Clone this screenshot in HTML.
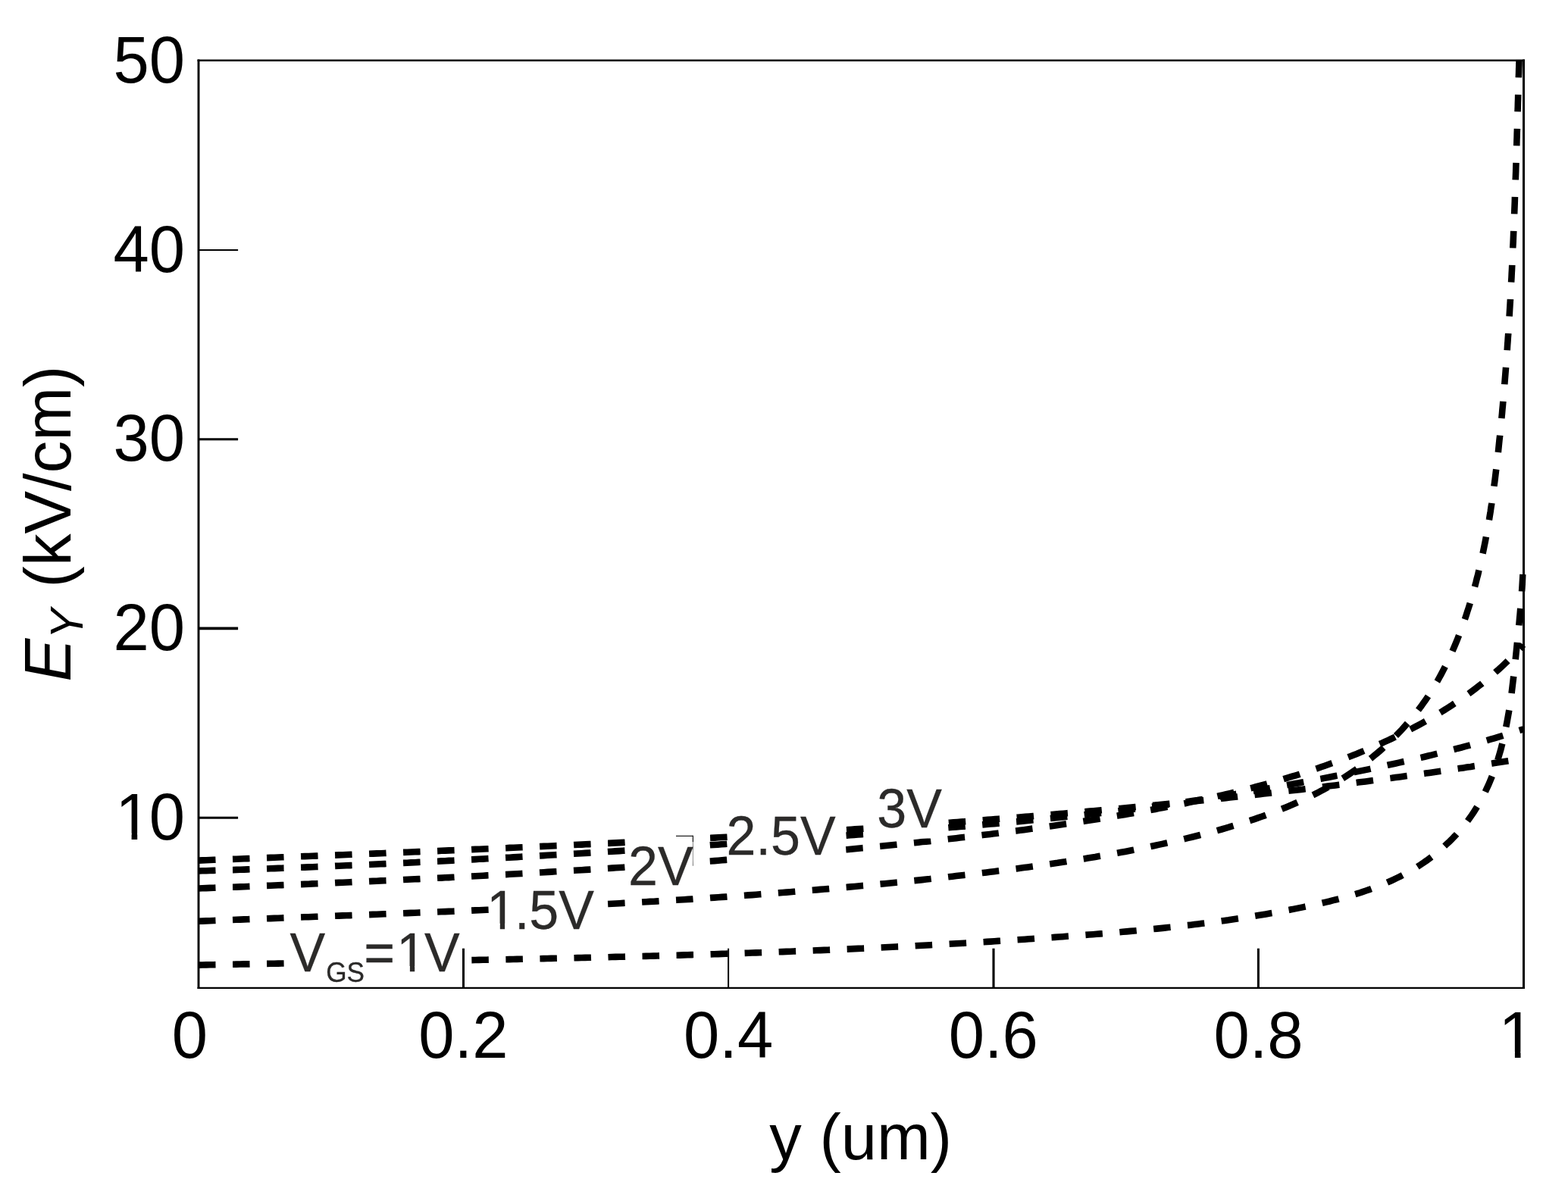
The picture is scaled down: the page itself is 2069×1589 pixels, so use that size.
<!DOCTYPE html>
<html lang="en"><head><meta charset="utf-8"><title>E_Y versus y for several V_GS</title>
<style>html,body{margin:0;padding:0;background:#fff}body{width:2069px;height:1589px;overflow:hidden}svg{display:block}text{font-family:"Liberation Sans", sans-serif}</style>
</head><body>
<svg width="2069" height="1589" viewBox="0 0 2069 1589" role="img" aria-label="E_Y (kV/cm) versus y (um) for V_GS = 1V, 1.5V, 2V, 2.5V and 3V">
<rect width="2069" height="1589" fill="#fff"/>
<defs><clipPath id="plot"><rect x="262.2" y="78.5" width="1751.5" height="1225.5"/></clipPath></defs>
<g clip-path="url(#plot)" fill="none" stroke="#000" stroke-width="8.6" stroke-dasharray="22.5 22.55">
<path d="M262.0 1273.6L267.0 1273.5 272.0 1273.4 277.0 1273.3 282.0 1273.2 287.0 1273.1 292.0 1273.0 297.0 1272.9 302.0 1272.8 306.9 1272.7 311.9 1272.6 316.9 1272.5 321.9 1272.4 326.9 1272.4 331.9 1272.3 336.9 1272.2 341.9 1272.1 346.9 1272.0 351.9 1271.9 356.9 1271.8 361.9 1271.7 366.9 1271.6 371.9 1271.5 376.9 1271.4 381.9 1271.4 386.9 1271.3 391.9 1271.2 396.9 1271.1 401.9 1271.0 406.9 1270.9 411.9 1270.8 416.9 1270.7 421.9 1270.6 426.9 1270.6 431.9 1270.5 436.9 1270.4 441.9 1270.3 446.9 1270.2 451.9 1270.1 456.9 1270.0 461.9 1269.9 466.9 1269.9 471.9 1269.8 476.9 1269.7 481.9 1269.6 486.9 1269.5 491.9 1269.4 496.9 1269.3 501.9 1269.2 506.9 1269.2 511.9 1269.1 517.0 1269.0 522.0 1268.9 527.0 1268.8 532.0 1268.7 537.0 1268.6 542.0 1268.5 547.0 1268.4 552.0 1268.4 557.0 1268.3 562.0 1268.2 567.0 1268.1 572.0 1268.0 577.0 1267.9 582.0 1267.8 587.0 1267.7 592.0 1267.6 597.0 1267.5 602.0 1267.4 607.0 1267.3 612.0 1267.2 617.0 1267.2 622.1 1267.1 627.1 1267.0 632.1 1266.9 637.1 1266.8 642.1 1266.7 647.1 1266.6 652.1 1266.5 657.1 1266.4 662.1 1266.3 667.1 1266.2 672.1 1266.1 677.1 1266.0 682.1 1265.9 687.1 1265.8 692.1 1265.7 697.1 1265.6 702.2 1265.4 707.2 1265.3 712.2 1265.2 717.2 1265.1 722.2 1265.0 727.2 1264.9 732.2 1264.8 737.2 1264.7 742.2 1264.6 747.2 1264.5 752.2 1264.3 757.2 1264.2 762.2 1264.1 767.2 1264.0 772.2 1263.9 777.3 1263.8 782.3 1263.6 787.3 1263.5 792.3 1263.4 797.3 1263.3 802.3 1263.2 807.3 1263.0 812.3 1262.9 817.3 1262.8 822.3 1262.7 827.3 1262.5 832.3 1262.4 837.3 1262.3 842.3 1262.1 847.3 1262.0 852.3 1261.9 857.4 1261.7 862.4 1261.6 867.4 1261.5 872.4 1261.3 877.4 1261.2 882.4 1261.0 887.4 1260.9 892.4 1260.7 897.4 1260.6 902.4 1260.4 907.4 1260.3 912.4 1260.1 917.4 1260.0 922.4 1259.8 927.4 1259.7 932.4 1259.5 937.4 1259.4 942.4 1259.2 947.5 1259.1 952.5 1258.9 957.5 1258.7 962.5 1258.6 967.5 1258.4 972.5 1258.2 977.5 1258.1 982.5 1257.9 987.5 1257.7 992.5 1257.5 997.5 1257.4 1002.5 1257.2 1007.5 1257.0 1012.5 1256.8 1017.5 1256.6 1022.5 1256.5 1027.5 1256.3 1032.5 1256.1 1037.5 1255.9 1042.5 1255.7 1047.5 1255.5 1052.5 1255.3 1057.5 1255.1 1062.5 1254.9 1067.5 1254.7 1072.5 1254.5 1077.5 1254.3 1082.5 1254.1 1087.5 1253.9 1092.5 1253.7 1097.5 1253.5 1102.5 1253.2 1107.5 1253.0 1112.5 1252.8 1117.5 1252.6 1122.5 1252.4 1127.5 1252.1 1132.5 1251.9 1137.5 1251.7 1142.5 1251.5 1147.5 1251.2 1152.5 1251.0 1157.5 1250.8 1162.5 1250.5 1167.5 1250.3 1172.5 1250.0 1177.5 1249.8 1182.5 1249.5 1187.5 1249.3 1192.5 1249.0 1197.5 1248.8 1202.5 1248.5 1207.5 1248.3 1212.5 1248.0 1217.5 1247.7 1222.5 1247.5 1227.5 1247.2 1232.4 1246.9 1237.4 1246.7 1242.4 1246.4 1247.4 1246.1 1252.4 1245.8 1257.4 1245.5 1262.4 1245.2 1267.4 1245.0 1272.4 1244.7 1277.4 1244.4 1282.4 1244.1 1287.4 1243.8 1292.4 1243.5 1297.3 1243.2 1302.3 1242.9 1307.3 1242.6 1312.3 1242.2 1317.3 1241.9 1322.3 1241.6 1327.3 1241.3 1332.3 1241.0 1337.3 1240.6 1342.2 1240.3 1347.2 1240.0 1352.2 1239.7 1357.2 1239.3 1362.2 1239.0 1367.2 1238.6 1372.2 1238.3 1377.1 1238.0 1382.1 1237.6 1387.1 1237.2 1392.1 1236.9 1397.1 1236.5 1402.1 1236.2 1407.0 1235.8 1412.0 1235.4 1417.0 1235.1 1422.0 1234.7 1427.0 1234.3 1432.0 1233.9 1436.9 1233.5 1441.9 1233.2 1446.9 1232.8 1451.9 1232.4 1456.9 1232.0 1461.8 1231.5 1466.8 1231.1 1471.8 1230.7 1476.8 1230.3 1481.7 1229.8 1486.7 1229.4 1491.7 1228.9 1496.7 1228.5 1501.6 1228.0 1506.6 1227.6 1511.6 1227.1 1516.6 1226.6 1521.5 1226.1 1526.5 1225.6 1531.5 1225.1 1536.4 1224.6 1541.4 1224.0 1546.4 1223.5 1551.4 1222.9 1556.3 1222.4 1561.3 1221.8 1566.3 1221.2 1571.2 1220.7 1576.2 1220.1 1581.2 1219.4 1586.1 1218.8 1591.1 1218.2 1596.1 1217.6 1601.0 1216.9 1606.0 1216.2 1610.9 1215.6 1615.9 1214.9 1620.9 1214.2 1625.8 1213.4 1630.8 1212.7 1635.7 1212.0 1640.7 1211.2 1645.7 1210.4 1650.6 1209.7 1655.6 1208.9 1660.5 1208.1 1665.5 1207.2 1670.4 1206.4 1675.4 1205.5 1680.3 1204.7 1685.3 1203.8 1690.2 1202.9 1695.2 1202.0 1700.1 1201.0 1705.1 1200.1 1710.0 1199.1 1715.0 1198.1 1719.9 1197.1 1724.9 1196.1 1729.8 1195.1 1734.7 1194.0 1739.7 1192.9 1744.6 1191.8 1749.5 1190.6 1754.4 1189.5 1759.3 1188.2 1764.2 1187.0 1769.0 1185.7 1773.9 1184.4 1778.7 1183.0 1783.5 1181.6 1788.3 1180.2 1793.1 1178.7 1797.8 1177.1 1802.5 1175.5 1807.2 1173.9 1811.9 1172.1 1816.6 1170.4 1821.2 1168.6 1825.8 1166.7 1830.3 1164.7 1834.9 1162.7 1839.4 1160.7 1843.8 1158.5 1848.2 1156.3 1852.6 1154.0 1857.0 1151.7 1861.3 1149.2 1865.5 1146.7 1869.8 1144.2 1874.0 1141.5 1878.1 1138.7 1882.2 1135.9 1886.2 1133.0 1890.2 1130.0 1894.2 1126.9 1898.0 1123.7 1901.9 1120.5 1905.6 1117.1 1909.3 1113.7 1912.9 1110.3 1916.5 1106.7 1920.0 1103.1 1923.4 1099.4 1926.7 1095.6 1930.0 1091.8 1933.1 1087.9 1936.2 1083.9 1939.2 1079.8 1942.1 1075.7 1944.8 1071.6 1947.5 1067.3 1950.1 1063.1 1952.6 1058.7 1955.0 1054.3 1957.4 1049.9 1959.6 1045.4 1961.7 1040.9 1963.8 1036.4 1965.8 1031.8 1967.7 1027.2 1969.5 1022.5 1971.2 1017.9 1972.9 1013.2 1974.5 1008.4 1976.1 1003.7 1977.5 998.9 1978.9 994.1 1980.3 989.3 1981.5 984.5 1982.8 979.7 1983.9 974.8 1985.1 969.9 1986.1 965.0 1987.1 960.1 1988.1 955.2 1989.0 950.2 1989.9 945.3 1990.8 940.3 1991.6 935.3 1992.3 930.4 1993.1 925.4 1993.8 920.4 1994.5 915.4 1995.1 910.4 1995.7 905.4 1996.3 900.4 1996.9 895.4 1997.5 890.4 1998.1 885.4 1998.6 880.4 1999.1 875.4 1999.7 870.4 2000.2 865.4 2000.7 860.4 2001.2 855.4 2001.7 850.4 2002.2 845.5 2002.7 840.5 2003.2 835.6 2003.7 830.6 2004.2 825.7 2004.7 820.7 2005.1 815.8 2005.6 810.8 2006.0 805.9 2006.5 800.9 2006.9 796.0 2007.3 791.0 2007.7 786.0 2008.0 781.1 2008.4 776.1 2008.7 771.1 2009.0 766.1 2009.3 761.1 2009.6 756.1 2009.8 751.0 2010.0 746.0" stroke-dashoffset="0.0"/>
<path d="M262.0 1215.8L267.0 1215.6 272.0 1215.4 277.0 1215.2 282.0 1215.0 287.0 1214.8 292.0 1214.6 297.0 1214.4 302.0 1214.2 306.9 1214.0 311.9 1213.8 316.9 1213.6 321.9 1213.4 326.9 1213.2 331.9 1213.0 336.9 1212.8 341.9 1212.6 346.9 1212.4 351.9 1212.3 356.9 1212.1 361.9 1211.9 366.9 1211.7 371.9 1211.5 376.9 1211.3 381.9 1211.1 386.9 1210.9 391.9 1210.7 396.9 1210.5 401.9 1210.3 406.9 1210.2 411.9 1210.0 416.9 1209.8 421.9 1209.6 426.9 1209.4 431.9 1209.2 437.0 1209.0 442.0 1208.8 447.0 1208.6 452.0 1208.4 457.0 1208.2 462.0 1208.1 467.0 1207.9 472.0 1207.7 477.0 1207.5 482.0 1207.3 487.0 1207.1 492.0 1206.9 497.0 1206.7 502.0 1206.5 507.0 1206.3 512.0 1206.1 517.0 1205.9 522.1 1205.7 527.1 1205.5 532.1 1205.3 537.1 1205.1 542.1 1204.9 547.1 1204.7 552.1 1204.5 557.1 1204.3 562.1 1204.1 567.1 1203.9 572.1 1203.7 577.1 1203.5 582.1 1203.3 587.2 1203.1 592.2 1202.9 597.2 1202.7 602.2 1202.5 607.2 1202.3 612.2 1202.1 617.2 1201.9 622.2 1201.6 627.2 1201.4 632.2 1201.2 637.2 1201.0 642.3 1200.8 647.3 1200.6 652.3 1200.3 657.3 1200.1 662.3 1199.9 667.3 1199.7 672.3 1199.5 677.3 1199.2 682.3 1199.0 687.3 1198.8 692.3 1198.5 697.4 1198.3 702.4 1198.1 707.4 1197.8 712.4 1197.6 717.4 1197.4 722.4 1197.1 727.4 1196.9 732.4 1196.6 737.4 1196.4 742.4 1196.1 747.4 1195.9 752.5 1195.6 757.5 1195.4 762.5 1195.1 767.5 1194.9 772.5 1194.6 777.5 1194.4 782.5 1194.1 787.5 1193.8 792.5 1193.6 797.5 1193.3 802.5 1193.0 807.5 1192.8 812.5 1192.5 817.5 1192.2 822.6 1191.9 827.6 1191.7 832.6 1191.4 837.6 1191.1 842.6 1190.8 847.6 1190.5 852.6 1190.2 857.6 1189.9 862.6 1189.7 867.6 1189.4 872.6 1189.1 877.6 1188.8 882.6 1188.4 887.6 1188.1 892.6 1187.8 897.6 1187.5 902.6 1187.2 907.6 1186.9 912.6 1186.6 917.6 1186.2 922.6 1185.9 927.6 1185.6 932.6 1185.3 937.6 1184.9 942.6 1184.6 947.6 1184.2 952.6 1183.9 957.6 1183.6 962.6 1183.2 967.6 1182.9 972.6 1182.5 977.6 1182.2 982.6 1181.8 987.6 1181.4 992.6 1181.1 997.6 1180.7 1002.6 1180.3 1007.6 1179.9 1012.6 1179.6 1017.6 1179.2 1022.6 1178.8 1027.6 1178.4 1032.6 1178.0 1037.6 1177.6 1042.6 1177.2 1047.6 1176.8 1052.6 1176.4 1057.5 1176.0 1062.5 1175.6 1067.5 1175.2 1072.5 1174.8 1077.5 1174.4 1082.5 1173.9 1087.5 1173.5 1092.5 1173.1 1097.5 1172.6 1102.5 1172.2 1107.4 1171.8 1112.4 1171.3 1117.4 1170.9 1122.4 1170.4 1127.4 1170.0 1132.4 1169.5 1137.4 1169.0 1142.3 1168.6 1147.3 1168.1 1152.3 1167.6 1157.3 1167.1 1162.3 1166.6 1167.2 1166.2 1172.2 1165.7 1177.2 1165.2 1182.2 1164.7 1187.2 1164.2 1192.1 1163.7 1197.1 1163.1 1202.1 1162.6 1207.1 1162.1 1212.1 1161.6 1217.0 1161.1 1222.0 1160.5 1227.0 1160.0 1231.9 1159.4 1236.9 1158.9 1241.9 1158.3 1246.9 1157.8 1251.8 1157.2 1256.8 1156.7 1261.8 1156.1 1266.7 1155.5 1271.7 1154.9 1276.7 1154.4 1281.6 1153.8 1286.6 1153.2 1291.6 1152.6 1296.5 1152.0 1301.5 1151.4 1306.5 1150.8 1311.4 1150.2 1316.4 1149.5 1321.4 1148.9 1326.3 1148.3 1331.3 1147.7 1336.2 1147.0 1341.2 1146.4 1346.1 1145.7 1351.1 1145.1 1356.1 1144.4 1361.0 1143.7 1366.0 1143.0 1370.9 1142.3 1375.9 1141.7 1380.8 1140.9 1385.8 1140.2 1390.7 1139.5 1395.7 1138.8 1400.6 1138.0 1405.6 1137.3 1410.5 1136.5 1415.4 1135.8 1420.4 1135.0 1425.3 1134.2 1430.3 1133.4 1435.2 1132.6 1440.1 1131.8 1445.1 1131.0 1450.0 1130.1 1454.9 1129.3 1459.9 1128.4 1464.8 1127.5 1469.7 1126.6 1474.6 1125.7 1479.6 1124.8 1484.5 1123.9 1489.4 1123.0 1494.3 1122.0 1499.3 1121.0 1504.2 1120.1 1509.1 1119.1 1514.0 1118.1 1518.9 1117.0 1523.8 1116.0 1528.7 1114.9 1533.6 1113.9 1538.5 1112.8 1543.5 1111.7 1548.4 1110.6 1553.3 1109.4 1558.2 1108.3 1563.0 1107.1 1567.9 1105.9 1572.8 1104.7 1577.7 1103.5 1582.6 1102.3 1587.5 1101.0 1592.4 1099.8 1597.3 1098.5 1602.1 1097.2 1607.0 1095.8 1611.9 1094.5 1616.7 1093.1 1621.6 1091.7 1626.4 1090.2 1631.2 1088.8 1636.0 1087.3 1640.9 1085.8 1645.7 1084.2 1650.4 1082.7 1655.2 1081.1 1660.0 1079.4 1664.7 1077.8 1669.5 1076.1 1674.2 1074.4 1678.9 1072.6 1683.6 1070.8 1688.2 1069.0 1692.9 1067.1 1697.5 1065.2 1702.1 1063.3 1706.7 1061.3 1711.3 1059.3 1715.9 1057.2 1720.4 1055.2 1724.9 1053.0 1729.4 1050.8 1733.9 1048.6 1738.3 1046.4 1742.7 1044.0 1747.1 1041.7 1751.5 1039.3 1755.8 1036.8 1760.1 1034.3 1764.4 1031.8 1768.6 1029.2 1772.8 1026.6 1777.0 1023.9 1781.2 1021.1 1785.3 1018.3 1789.4 1015.5 1793.5 1012.6 1797.5 1009.6 1801.5 1006.6 1805.4 1003.6 1809.4 1000.5 1813.2 997.3 1817.1 994.1 1820.9 990.9 1824.6 987.6 1828.3 984.2 1832.0 980.8 1835.6 977.4 1839.2 973.9 1842.7 970.3 1846.1 966.8 1849.6 963.1 1852.9 959.4 1856.2 955.7 1859.5 951.9 1862.7 948.1 1865.9 944.2 1869.0 940.3 1872.0 936.4 1875.0 932.4 1877.9 928.3 1880.8 924.3 1883.6 920.1 1886.3 916.0 1889.0 911.7 1891.6 907.5 1894.1 903.2 1896.7 898.9 1899.1 894.5 1901.5 890.1 1903.8 885.7 1906.1 881.3 1908.4 876.8 1910.6 872.3 1912.7 867.7 1914.8 863.2 1916.8 858.6 1918.8 854.0 1920.8 849.3 1922.7 844.7 1924.5 840.0 1926.3 835.3 1928.1 830.6 1929.8 825.9 1931.5 821.1 1933.2 816.4 1934.8 811.6 1936.3 806.8 1937.9 802.0 1939.4 797.2 1940.8 792.4 1942.2 787.6 1943.6 782.8 1945.0 778.0 1946.3 773.1 1947.6 768.3 1948.8 763.4 1950.1 758.6 1951.2 753.7 1952.4 748.9 1953.5 744.0 1954.6 739.1 1955.7 734.2 1956.8 729.3 1957.8 724.4 1958.8 719.5 1959.8 714.6 1960.7 709.7 1961.6 704.7 1962.5 699.8 1963.4 694.9 1964.2 689.9 1965.1 685.0 1965.9 680.0 1966.7 675.1 1967.4 670.1 1968.2 665.2 1968.9 660.2 1969.6 655.2 1970.3 650.3 1971.0 645.3 1971.6 640.3 1972.3 635.4 1972.9 630.4 1973.5 625.4 1974.1 620.4 1974.7 615.4 1975.3 610.4 1975.9 605.5 1976.4 600.5 1977.0 595.5 1977.5 590.5 1978.0 585.5 1978.5 580.5 1979.1 575.5 1979.6 570.5 1980.1 565.6 1980.5 560.6 1981.0 555.6 1981.5 550.6 1982.0 545.6 1982.4 540.6 1982.9 535.6 1983.3 530.6 1983.7 525.6 1984.2 520.6 1984.6 515.6 1985.0 510.7 1985.4 505.7 1985.8 500.7 1986.2 495.7 1986.6 490.7 1987.0 485.7 1987.4 480.7 1987.7 475.7 1988.1 470.7 1988.5 465.7 1988.8 460.7 1989.1 455.7 1989.5 450.7 1989.8 445.7 1990.2 440.8 1990.5 435.8 1990.8 430.8 1991.1 425.8 1991.4 420.8 1991.7 415.8 1992.0 410.8 1992.3 405.8 1992.6 400.8 1992.9 395.8 1993.1 390.8 1993.4 385.8 1993.7 380.8 1993.9 375.8 1994.2 370.8 1994.5 365.8 1994.7 360.8 1995.0 355.8 1995.2 350.8 1995.4 345.8 1995.7 340.8 1995.9 335.8 1996.1 330.8 1996.3 325.8 1996.6 320.8 1996.8 315.8 1997.0 310.8 1997.2 305.8 1997.4 300.8 1997.6 295.8 1997.8 290.8 1998.0 285.8 1998.2 280.8 1998.4 275.8 1998.6 270.8 1998.8 265.8 1998.9 260.8 1999.1 255.8 1999.3 250.8 1999.5 245.8 1999.6 240.8 1999.8 235.8 2000.0 230.8 2000.2 225.8 2000.3 220.8 2000.5 215.8 2000.6 210.8 2000.8 205.7 2001.0 200.7 2001.1 195.7 2001.3 190.7 2001.4 185.7 2001.6 180.7 2001.7 175.7 2001.9 170.7 2002.0 165.7 2002.2 160.7 2002.3 155.7 2002.5 150.7 2002.6 145.7 2002.8 140.6 2002.9 135.6 2003.1 130.6 2003.2 125.6 2003.3 120.6 2003.5 115.6 2003.6 110.6 2003.8 105.6 2003.9 100.6 2004.1 95.5 2004.2 90.5 2004.4 85.5 2004.5 80.5" stroke-dashoffset="0.0"/>
<path d="M262.0 1172.5L267.0 1172.3 272.0 1172.1 277.0 1171.9 282.0 1171.7 287.0 1171.5 292.0 1171.3 297.0 1171.1 302.0 1170.9 307.0 1170.7 312.0 1170.6 317.0 1170.4 322.0 1170.2 327.0 1170.0 332.0 1169.8 337.0 1169.6 342.0 1169.4 347.0 1169.1 352.0 1168.9 357.0 1168.7 362.0 1168.5 367.0 1168.3 372.0 1168.1 377.0 1167.9 382.0 1167.7 387.0 1167.5 392.0 1167.3 397.0 1167.1 402.0 1166.9 407.0 1166.7 412.0 1166.4 417.0 1166.2 422.0 1166.0 427.0 1165.8 432.0 1165.6 437.1 1165.4 442.1 1165.1 447.1 1164.9 452.1 1164.7 457.1 1164.5 462.1 1164.3 467.1 1164.0 472.1 1163.8 477.1 1163.6 482.1 1163.4 487.1 1163.1 492.1 1162.9 497.1 1162.7 502.1 1162.4 507.1 1162.2 512.2 1162.0 517.2 1161.7 522.2 1161.5 527.2 1161.3 532.2 1161.0 537.2 1160.8 542.2 1160.5 547.2 1160.3 552.2 1160.1 557.2 1159.8 562.2 1159.6 567.2 1159.3 572.3 1159.1 577.3 1158.8 582.3 1158.6 587.3 1158.3 592.3 1158.1 597.3 1157.8 602.3 1157.5 607.3 1157.3 612.3 1157.0 617.3 1156.8 622.3 1156.5 627.4 1156.2 632.4 1156.0 637.4 1155.7 642.4 1155.4 647.4 1155.2 652.4 1154.9 657.4 1154.6 662.4 1154.3 667.4 1154.1 672.4 1153.8 677.4 1153.5 682.5 1153.2 687.5 1153.0 692.5 1152.7 697.5 1152.4 702.5 1152.1 707.5 1151.8 712.5 1151.5 717.5 1151.2 722.5 1150.9 727.5 1150.6 732.5 1150.3 737.5 1150.0 742.6 1149.7 747.6 1149.4 752.6 1149.1 757.6 1148.8 762.6 1148.5 767.6 1148.2 772.6 1147.9 777.6 1147.6 782.6 1147.3 787.6 1146.9 792.6 1146.6 797.6 1146.3 802.6 1146.0 807.6 1145.6 812.6 1145.3 817.6 1145.0 822.7 1144.7 827.7 1144.3 832.7 1144.0 837.7 1143.6 842.7 1143.3 847.7 1143.0 852.7 1142.6 857.7 1142.3 862.7 1141.9 867.7 1141.6 872.7 1141.2 877.7 1140.9 882.7 1140.5 887.7 1140.2 892.7 1139.8 897.7 1139.4 902.7 1139.1 907.7 1138.7 912.7 1138.3 917.7 1138.0 922.7 1137.6 927.7 1137.2 932.7 1136.8 937.7 1136.5 942.7 1136.1 947.7 1135.7 952.7 1135.3 957.7 1134.9 962.7 1134.5 967.7 1134.1 972.7 1133.7 977.7 1133.3 982.7 1132.9 987.7 1132.5 992.7 1132.1 997.7 1131.7 1002.6 1131.3 1007.6 1130.9 1012.6 1130.5 1017.6 1130.1 1022.6 1129.6 1027.6 1129.2 1032.6 1128.8 1037.6 1128.4 1042.6 1127.9 1047.6 1127.5 1052.6 1127.1 1057.6 1126.6 1062.5 1126.2 1067.5 1125.7 1072.5 1125.3 1077.5 1124.8 1082.5 1124.4 1087.5 1123.9 1092.5 1123.5 1097.5 1123.0 1102.4 1122.6 1107.4 1122.1 1112.4 1121.6 1117.4 1121.2 1122.4 1120.7 1127.4 1120.2 1132.3 1119.7 1137.3 1119.2 1142.3 1118.8 1147.3 1118.3 1152.3 1117.8 1157.2 1117.3 1162.2 1116.8 1167.2 1116.3 1172.2 1115.8 1177.2 1115.3 1182.1 1114.8 1187.1 1114.3 1192.1 1113.8 1197.1 1113.2 1202.0 1112.7 1207.0 1112.2 1212.0 1111.7 1217.0 1111.1 1221.9 1110.6 1226.9 1110.1 1231.9 1109.5 1236.8 1109.0 1241.8 1108.4 1246.8 1107.9 1251.7 1107.3 1256.7 1106.8 1261.7 1106.2 1266.7 1105.6 1271.6 1105.0 1276.6 1104.5 1281.6 1103.9 1286.5 1103.3 1291.5 1102.7 1296.5 1102.1 1301.4 1101.5 1306.4 1100.9 1311.3 1100.3 1316.3 1099.7 1321.3 1099.0 1326.2 1098.4 1331.2 1097.8 1336.2 1097.1 1341.1 1096.5 1346.1 1095.8 1351.0 1095.2 1356.0 1094.5 1361.0 1093.8 1365.9 1093.2 1370.9 1092.5 1375.8 1091.8 1380.8 1091.1 1385.7 1090.4 1390.7 1089.7 1395.7 1089.0 1400.6 1088.3 1405.6 1087.5 1410.5 1086.8 1415.5 1086.1 1420.4 1085.3 1425.4 1084.6 1430.3 1083.8 1435.3 1083.0 1440.3 1082.3 1445.2 1081.5 1450.2 1080.7 1455.1 1079.9 1460.1 1079.1 1465.0 1078.3 1470.0 1077.4 1474.9 1076.6 1479.9 1075.8 1484.8 1074.9 1489.8 1074.1 1494.7 1073.2 1499.7 1072.4 1504.6 1071.5 1509.6 1070.6 1514.5 1069.7 1519.5 1068.8 1524.4 1067.9 1529.4 1066.9 1534.3 1066.0 1539.2 1065.1 1544.2 1064.1 1549.1 1063.1 1554.0 1062.2 1559.0 1061.2 1563.9 1060.2 1568.8 1059.1 1573.8 1058.1 1578.7 1057.1 1583.6 1056.0 1588.5 1054.9 1593.4 1053.9 1598.3 1052.8 1603.2 1051.7 1608.1 1050.5 1613.0 1049.4 1617.9 1048.3 1622.8 1047.1 1627.7 1045.9 1632.6 1044.7 1637.4 1043.5 1642.3 1042.3 1647.2 1041.0 1652.0 1039.8 1656.9 1038.5 1661.7 1037.2 1666.6 1035.9 1671.4 1034.6 1676.3 1033.2 1681.1 1031.8 1685.9 1030.5 1690.7 1029.1 1695.5 1027.6 1700.3 1026.2 1705.1 1024.7 1709.9 1023.3 1714.7 1021.8 1719.4 1020.2 1724.2 1018.7 1729.0 1017.1 1733.7 1015.6 1738.5 1014.0 1743.2 1012.3 1747.9 1010.7 1752.6 1009.0 1757.3 1007.3 1762.0 1005.6 1766.7 1003.9 1771.4 1002.2 1776.1 1000.4 1780.8 998.6 1785.4 996.7 1790.1 994.9 1794.7 993.0 1799.3 991.1 1803.9 989.2 1808.5 987.3 1813.1 985.3 1817.7 983.3 1822.3 981.3 1826.8 979.2 1831.4 977.1 1835.9 975.0 1840.4 972.9 1844.9 970.7 1849.4 968.5 1853.9 966.3 1858.3 964.0 1862.7 961.7 1867.1 959.4 1871.5 957.1 1875.9 954.7 1880.3 952.2 1884.6 949.8 1888.9 947.3 1893.2 944.8 1897.5 942.2 1901.8 939.6 1906.0 937.0 1910.2 934.4 1914.4 931.7 1918.5 928.9 1922.7 926.2 1926.8 923.3 1930.9 920.5 1934.9 917.6 1939.0 914.7 1943.0 911.7 1947.0 908.7 1950.9 905.7 1954.9 902.6 1958.8 899.4 1962.6 896.3 1966.5 893.1 1970.3 889.8 1974.0 886.5 1977.8 883.2 1981.5 879.8 1985.2 876.3 1988.8 872.9 1992.4 869.3 1996.0 865.8 1999.6 862.1 2003.1 858.5 2006.6 854.8 2010.0 851.0" stroke-dashoffset="0.0"/>
<path d="M262.0 1149.5L267.0 1149.3 272.0 1149.2 277.0 1149.0 282.0 1148.9 287.0 1148.7 292.0 1148.6 297.0 1148.4 302.1 1148.2 307.1 1148.1 312.1 1147.9 317.1 1147.7 322.1 1147.6 327.1 1147.4 332.1 1147.2 337.1 1147.0 342.1 1146.9 347.1 1146.7 352.1 1146.5 357.1 1146.3 362.1 1146.1 367.1 1145.9 372.1 1145.7 377.1 1145.6 382.1 1145.4 387.1 1145.2 392.1 1145.0 397.1 1144.8 402.1 1144.6 407.1 1144.4 412.2 1144.2 417.2 1144.0 422.2 1143.8 427.2 1143.6 432.2 1143.4 437.2 1143.2 442.2 1142.9 447.2 1142.7 452.2 1142.5 457.2 1142.3 462.2 1142.1 467.2 1141.9 472.2 1141.6 477.2 1141.4 482.2 1141.2 487.2 1141.0 492.2 1140.8 497.2 1140.5 502.2 1140.3 507.2 1140.1 512.2 1139.8 517.2 1139.6 522.2 1139.4 527.2 1139.1 532.2 1138.9 537.2 1138.7 542.2 1138.4 547.2 1138.2 552.2 1137.9 557.2 1137.7 562.2 1137.4 567.2 1137.2 572.2 1136.9 577.2 1136.7 582.2 1136.4 587.2 1136.2 592.2 1135.9 597.2 1135.7 602.2 1135.4 607.2 1135.2 612.2 1134.9 617.2 1134.6 622.2 1134.4 627.2 1134.1 632.2 1133.8 637.2 1133.6 642.2 1133.3 647.2 1133.0 652.2 1132.8 657.2 1132.5 662.2 1132.2 667.2 1131.9 672.2 1131.7 677.2 1131.4 682.2 1131.1 687.2 1130.8 692.2 1130.5 697.2 1130.3 702.2 1130.0 707.2 1129.7 712.2 1129.4 717.2 1129.1 722.2 1128.8 727.2 1128.5 732.2 1128.3 737.2 1128.0 742.2 1127.7 747.2 1127.4 752.2 1127.1 757.2 1126.8 762.2 1126.5 767.2 1126.2 772.2 1125.9 777.2 1125.6 782.1 1125.3 787.1 1125.0 792.1 1124.7 797.1 1124.4 802.1 1124.0 807.1 1123.7 812.1 1123.4 817.1 1123.1 822.1 1122.8 827.1 1122.5 832.1 1122.2 837.1 1121.9 842.1 1121.5 847.1 1121.2 852.1 1120.9 857.1 1120.6 862.1 1120.3 867.1 1119.9 872.1 1119.6 877.1 1119.3 882.1 1119.0 887.1 1118.6 892.1 1118.3 897.1 1118.0 902.1 1117.7 907.1 1117.3 912.1 1117.0 917.1 1116.7 922.1 1116.3 927.0 1116.0 932.0 1115.7 937.0 1115.3 942.0 1115.0 947.0 1114.7 952.0 1114.3 957.0 1114.0 962.0 1113.6 967.0 1113.3 972.0 1112.9 977.0 1112.6 982.0 1112.3 987.0 1111.9 992.0 1111.6 997.0 1111.2 1002.0 1110.9 1007.0 1110.5 1012.0 1110.2 1017.0 1109.8 1022.0 1109.5 1027.0 1109.1 1032.0 1108.8 1036.9 1108.4 1041.9 1108.0 1046.9 1107.7 1051.9 1107.3 1056.9 1107.0 1061.9 1106.6 1066.9 1106.3 1071.9 1105.9 1076.9 1105.5 1081.9 1105.2 1086.9 1104.8 1091.9 1104.4 1096.9 1104.1 1101.9 1103.7 1106.9 1103.3 1111.9 1103.0 1116.9 1102.6 1121.9 1102.2 1126.9 1101.9 1131.9 1101.5 1136.8 1101.1 1141.8 1100.8 1146.8 1100.4 1151.8 1100.0 1156.8 1099.6 1161.8 1099.3 1166.8 1098.9 1171.8 1098.5 1176.8 1098.1 1181.8 1097.7 1186.8 1097.4 1191.8 1097.0 1196.8 1096.6 1201.8 1096.2 1206.8 1095.8 1211.8 1095.4 1216.8 1095.0 1221.7 1094.6 1226.7 1094.2 1231.7 1093.8 1236.7 1093.4 1241.7 1093.0 1246.7 1092.6 1251.7 1092.2 1256.7 1091.8 1261.7 1091.4 1266.7 1091.0 1271.7 1090.6 1276.7 1090.1 1281.6 1089.7 1286.6 1089.3 1291.6 1088.9 1296.6 1088.4 1301.6 1088.0 1306.6 1087.5 1311.6 1087.1 1316.6 1086.7 1321.5 1086.2 1326.5 1085.8 1331.5 1085.3 1336.5 1084.8 1341.5 1084.4 1346.5 1083.9 1351.5 1083.4 1356.4 1083.0 1361.4 1082.5 1366.4 1082.0 1371.4 1081.5 1376.4 1081.0 1381.4 1080.5 1386.3 1080.0 1391.3 1079.5 1396.3 1079.0 1401.3 1078.5 1406.3 1078.0 1411.2 1077.5 1416.2 1076.9 1421.2 1076.4 1426.2 1075.9 1431.1 1075.3 1436.1 1074.8 1441.1 1074.2 1446.1 1073.7 1451.0 1073.1 1456.0 1072.6 1461.0 1072.0 1465.9 1071.4 1470.9 1070.8 1475.9 1070.2 1480.8 1069.6 1485.8 1069.0 1490.8 1068.4 1495.7 1067.8 1500.7 1067.2 1505.7 1066.6 1510.6 1065.9 1515.6 1065.3 1520.6 1064.6 1525.5 1064.0 1530.5 1063.3 1535.4 1062.6 1540.4 1061.9 1545.3 1061.2 1550.3 1060.5 1555.2 1059.8 1560.2 1059.1 1565.1 1058.3 1570.1 1057.6 1575.0 1056.8 1580.0 1056.1 1584.9 1055.3 1589.9 1054.6 1594.8 1053.8 1599.8 1053.0 1604.7 1052.2 1609.6 1051.4 1614.6 1050.6 1619.5 1049.8 1624.5 1049.0 1629.4 1048.2 1634.3 1047.3 1639.3 1046.5 1644.2 1045.7 1649.1 1044.8 1654.1 1044.0 1659.0 1043.1 1663.9 1042.3 1668.9 1041.4 1673.8 1040.5 1678.7 1039.7 1683.7 1038.8 1688.6 1037.9 1693.5 1037.0 1698.5 1036.1 1703.4 1035.2 1708.3 1034.3 1713.2 1033.4 1718.2 1032.5 1723.1 1031.6 1728.0 1030.7 1732.9 1029.7 1737.8 1028.8 1742.8 1027.9 1747.7 1026.9 1752.6 1026.0 1757.5 1025.0 1762.4 1024.0 1767.3 1023.1 1772.2 1022.1 1777.2 1021.1 1782.1 1020.1 1787.0 1019.1 1791.9 1018.1 1796.8 1017.1 1801.7 1016.1 1806.6 1015.1 1811.5 1014.0 1816.4 1013.0 1821.3 1012.0 1826.2 1010.9 1831.1 1009.8 1835.9 1008.8 1840.8 1007.7 1845.7 1006.6 1850.6 1005.5 1855.5 1004.4 1860.4 1003.3 1865.2 1002.2 1870.1 1001.0 1875.0 999.9 1879.9 998.7 1884.7 997.5 1889.6 996.4 1894.4 995.2 1899.3 994.0 1904.1 992.7 1909.0 991.5 1913.8 990.3 1918.7 989.0 1923.5 987.7 1928.4 986.5 1933.2 985.2 1938.0 983.9 1942.9 982.5 1947.7 981.2 1952.5 979.8 1957.3 978.5 1962.1 977.1 1966.9 975.7 1971.7 974.3 1976.5 972.8 1981.3 971.4 1986.1 969.9 1990.9 968.4 1995.7 966.9 2000.5 965.4 2005.2 963.9 2010.0 962.3" stroke-dashoffset="0.0"/>
<path d="M262.0 1135.6L267.0 1135.4 272.0 1135.2 277.0 1135.0 282.0 1134.8 287.0 1134.6 292.0 1134.4 297.0 1134.2 302.0 1134.0 307.0 1133.9 312.0 1133.7 317.1 1133.5 322.1 1133.3 327.1 1133.1 332.1 1132.9 337.1 1132.7 342.1 1132.5 347.1 1132.3 352.1 1132.1 357.1 1131.9 362.1 1131.7 367.1 1131.5 372.1 1131.3 377.1 1131.1 382.1 1130.9 387.1 1130.7 392.1 1130.5 397.2 1130.3 402.2 1130.1 407.2 1130.0 412.2 1129.8 417.2 1129.6 422.2 1129.4 427.2 1129.2 432.2 1129.0 437.2 1128.8 442.2 1128.6 447.2 1128.4 452.2 1128.2 457.2 1128.0 462.3 1127.8 467.3 1127.6 472.3 1127.4 477.3 1127.2 482.3 1127.0 487.3 1126.8 492.3 1126.6 497.3 1126.4 502.3 1126.2 507.3 1126.0 512.3 1125.7 517.3 1125.5 522.3 1125.3 527.4 1125.1 532.4 1124.9 537.4 1124.7 542.4 1124.5 547.4 1124.3 552.4 1124.1 557.4 1123.9 562.4 1123.7 567.4 1123.5 572.4 1123.3 577.4 1123.1 582.4 1122.8 587.5 1122.6 592.5 1122.4 597.5 1122.2 602.5 1122.0 607.5 1121.8 612.5 1121.6 617.5 1121.4 622.5 1121.1 627.5 1120.9 632.5 1120.7 637.5 1120.5 642.6 1120.3 647.6 1120.1 652.6 1119.8 657.6 1119.6 662.6 1119.4 667.6 1119.2 672.6 1118.9 677.6 1118.7 682.6 1118.5 687.6 1118.3 692.6 1118.1 697.6 1117.8 702.7 1117.6 707.7 1117.4 712.7 1117.1 717.7 1116.9 722.7 1116.7 727.7 1116.5 732.7 1116.2 737.7 1116.0 742.7 1115.8 747.7 1115.5 752.7 1115.3 757.8 1115.0 762.8 1114.8 767.8 1114.6 772.8 1114.3 777.8 1114.1 782.8 1113.9 787.8 1113.6 792.8 1113.4 797.8 1113.1 802.8 1112.9 807.8 1112.6 812.8 1112.4 817.9 1112.1 822.9 1111.9 827.9 1111.6 832.9 1111.4 837.9 1111.1 842.9 1110.9 847.9 1110.6 852.9 1110.4 857.9 1110.1 862.9 1109.9 867.9 1109.6 872.9 1109.3 877.9 1109.1 883.0 1108.8 888.0 1108.6 893.0 1108.3 898.0 1108.0 903.0 1107.8 908.0 1107.5 913.0 1107.2 918.0 1107.0 923.0 1106.7 928.0 1106.4 933.0 1106.1 938.0 1105.9 943.0 1105.6 948.0 1105.3 953.0 1105.0 958.1 1104.8 963.1 1104.5 968.1 1104.2 973.1 1103.9 978.1 1103.6 983.1 1103.3 988.1 1103.1 993.1 1102.8 998.1 1102.5 1003.1 1102.2 1008.1 1101.9 1013.1 1101.6 1018.1 1101.3 1023.1 1101.0 1028.1 1100.7 1033.1 1100.4 1038.1 1100.1 1043.1 1099.8 1048.1 1099.5 1053.2 1099.2 1058.2 1098.9 1063.2 1098.6 1068.2 1098.3 1073.2 1098.0 1078.2 1097.7 1083.2 1097.3 1088.2 1097.0 1093.2 1096.7 1098.2 1096.4 1103.2 1096.1 1108.2 1095.7 1113.2 1095.4 1118.2 1095.1 1123.2 1094.8 1128.2 1094.4 1133.2 1094.1 1138.2 1093.8 1143.2 1093.5 1148.2 1093.1 1153.2 1092.8 1158.2 1092.4 1163.2 1092.1 1168.2 1091.8 1173.2 1091.4 1178.2 1091.1 1183.2 1090.7 1188.2 1090.4 1193.2 1090.0 1198.2 1089.7 1203.2 1089.3 1208.2 1089.0 1213.2 1088.6 1218.2 1088.3 1223.2 1087.9 1228.2 1087.5 1233.2 1087.2 1238.2 1086.8 1243.2 1086.4 1248.2 1086.1 1253.2 1085.7 1258.2 1085.3 1263.2 1085.0 1268.2 1084.6 1273.2 1084.2 1278.2 1083.8 1283.2 1083.4 1288.2 1083.1 1293.2 1082.7 1298.2 1082.3 1303.2 1081.9 1308.2 1081.5 1313.2 1081.1 1318.2 1080.7 1323.2 1080.3 1328.2 1079.9 1333.2 1079.5 1338.2 1079.1 1343.2 1078.7 1348.2 1078.3 1353.2 1077.9 1358.2 1077.5 1363.1 1077.1 1368.1 1076.6 1373.1 1076.2 1378.1 1075.8 1383.1 1075.4 1388.1 1075.0 1393.1 1074.5 1398.1 1074.1 1403.1 1073.7 1408.1 1073.2 1413.1 1072.8 1418.1 1072.4 1423.1 1071.9 1428.1 1071.5 1433.1 1071.1 1438.0 1070.6 1443.0 1070.2 1448.0 1069.7 1453.0 1069.3 1458.0 1068.8 1463.0 1068.4 1468.0 1067.9 1473.0 1067.4 1478.0 1067.0 1483.0 1066.5 1487.9 1066.0 1492.9 1065.6 1497.9 1065.1 1502.9 1064.6 1507.9 1064.2 1512.9 1063.7 1517.9 1063.2 1522.9 1062.7 1527.9 1062.2 1532.8 1061.7 1537.8 1061.2 1542.8 1060.8 1547.8 1060.3 1552.8 1059.8 1557.8 1059.3 1562.8 1058.8 1567.7 1058.3 1572.7 1057.7 1577.7 1057.2 1582.7 1056.7 1587.7 1056.2 1592.7 1055.7 1597.7 1055.2 1602.6 1054.6 1607.6 1054.1 1612.6 1053.6 1617.6 1053.1 1622.6 1052.5 1627.5 1052.0 1632.5 1051.5 1637.5 1050.9 1642.5 1050.4 1647.5 1049.8 1652.5 1049.3 1657.4 1048.7 1662.4 1048.2 1667.4 1047.6 1672.4 1047.0 1677.4 1046.5 1682.3 1045.9 1687.3 1045.3 1692.3 1044.8 1697.3 1044.2 1702.2 1043.6 1707.2 1043.0 1712.2 1042.4 1717.2 1041.9 1722.1 1041.3 1727.1 1040.7 1732.1 1040.1 1737.1 1039.5 1742.0 1038.9 1747.0 1038.3 1752.0 1037.6 1757.0 1037.0 1761.9 1036.4 1766.9 1035.8 1771.9 1035.2 1776.9 1034.5 1781.8 1033.9 1786.8 1033.3 1791.8 1032.6 1796.7 1032.0 1801.7 1031.4 1806.7 1030.7 1811.6 1030.1 1816.6 1029.4 1821.6 1028.8 1826.5 1028.1 1831.5 1027.4 1836.5 1026.8 1841.4 1026.1 1846.4 1025.4 1851.4 1024.7 1856.3 1024.1 1861.3 1023.4 1866.3 1022.7 1871.2 1022.0 1876.2 1021.3 1881.2 1020.6 1886.1 1019.9 1891.1 1019.2 1896.0 1018.5 1901.0 1017.7 1906.0 1017.0 1910.9 1016.3 1915.9 1015.6 1920.8 1014.8 1925.8 1014.1 1930.7 1013.4 1935.7 1012.6 1940.7 1011.9 1945.6 1011.1 1950.6 1010.4 1955.5 1009.6 1960.5 1008.9 1965.4 1008.1 1970.4 1007.3 1975.3 1006.5 1980.3 1005.8 1985.2 1005.0 1990.2 1004.2 1995.2 1003.4 2000.1 1002.6 2005.1 1001.8 2010.0 1001.0" stroke-dashoffset="0.0"/>
</g>
<g fill="#fff">
<rect x="377" y="1225" width="241" height="76"/>
<rect x="646" y="1168" width="152" height="62"/>
<rect x="828" y="1103" width="86.5" height="68"/>
<rect x="960.5" y="1072" width="154" height="71"/>
<rect x="1142" y="1040" width="105" height="66.5"/>
</g>
<path d="M892 1103.3H914.4V1111" fill="none" stroke="#222" stroke-width="1.3"/>
<path d="M914.4 1111V1142.8" fill="none" stroke="#222" stroke-opacity="0.45" stroke-width="1.1"/>
<text transform="translate(382.5 1282.0) scale(1 1.035)" font-size="70" fill="#2b2a29" stroke="#2b2a29" stroke-width="0.3">V<tspan font-size="35.2" dy="13.8" dx="1.0">GS</tspan><tspan dy="-13.8" dx="-0.9 2.3 -2.3">=1V</tspan></text>
<text transform="translate(640.0 1225.8) scale(1 1.035)" font-size="70" fill="#2b2a29" stroke="#2b2a29" stroke-width="0.3" dx="2.3 -2.3">1.5V</text>
<text transform="translate(829.0 1167.5) scale(1 1.035)" font-size="70" fill="#2b2a29" stroke="#2b2a29" stroke-width="0.3">2V</text>
<text transform="translate(958.6 1128.0) scale(1 1.035)" font-size="70" fill="#2b2a29" stroke="#2b2a29" stroke-width="0.3">2.5V</text>
<text transform="translate(1157.3 1092.3) scale(1 1.035)" font-size="70" fill="#2b2a29" stroke="#2b2a29" stroke-width="0.3">3V</text>
<g stroke="#000" fill="none" stroke-linecap="butt">
<line x1="262.00" y1="78.60" x2="262.00" y2="1305.00" stroke-width="2.9"/>
<line x1="260.55" y1="79.85" x2="2012.00" y2="79.85" stroke-width="2.5"/>
<line x1="2010.50" y1="78.60" x2="2010.50" y2="1305.00" stroke-width="3.0"/>
<line x1="260.55" y1="1303.90" x2="2012.00" y2="1303.90" stroke-width="2.2"/>
</g>
<g stroke="#000" fill="none">
<line x1="262.0" y1="329.95" x2="314.1" y2="329.95" stroke-width="2.0"/>
<line x1="262.0" y1="579.70" x2="314.1" y2="579.70" stroke-width="3.0"/>
<line x1="262.0" y1="829.45" x2="314.1" y2="829.45" stroke-width="3.8"/>
<line x1="262.0" y1="1079.20" x2="314.1" y2="1079.20" stroke-width="2.9"/>
<line x1="611.5" y1="1304.0" x2="611.5" y2="1251.7" stroke-width="3.0"/>
<line x1="961.1" y1="1304.0" x2="961.1" y2="1251.7" stroke-width="2.0"/>
<line x1="1311.0" y1="1304.0" x2="1311.0" y2="1251.7" stroke-width="3.1"/>
<line x1="1660.4" y1="1304.0" x2="1660.4" y2="1251.7" stroke-width="3.0"/>
</g>
<g fill="#000">
<text transform="translate(244.0 108.8) scale(1 1.035)" font-size="85" text-anchor="end">50</text>
<text transform="translate(244.0 358.5) scale(1 1.035)" font-size="85" text-anchor="end">40</text>
<text transform="translate(244.0 608.2) scale(1 1.035)" font-size="85" text-anchor="end">30</text>
<text transform="translate(244.0 858.0) scale(1 1.035)" font-size="85" text-anchor="end">20</text>
<text transform="translate(149.5 1107.8) scale(1 1.035)" font-size="85" dx="2.8 -2.8">10</text>
<text transform="translate(250.4 1396.3) scale(1 1.035)" font-size="85" text-anchor="middle">0</text>
<text transform="translate(611.4 1396.3) scale(1 1.035)" font-size="85" text-anchor="middle">0.2</text>
<text transform="translate(961.1 1396.3) scale(1 1.035)" font-size="85" text-anchor="middle">0.4</text>
<text transform="translate(1310.8 1396.3) scale(1 1.035)" font-size="85" text-anchor="middle">0.6</text>
<text transform="translate(1660.5 1396.3) scale(1 1.035)" font-size="85" text-anchor="middle">0.8</text>
<text transform="translate(1974.8 1396.3) scale(1 1.035)" font-size="85" dx="2.8">1</text>
<text transform="translate(1135.7 1529.7)" font-size="85" text-anchor="middle">y (um)</text>
<text transform="translate(93.3 899.5) rotate(-90) scale(1 1.020)" font-size="85"><tspan font-style="italic">E</tspan><tspan font-style="italic" font-size="60" dy="15.8" dx="-0.5">Y</tspan><tspan dy="-15.8" dx="4.3"> (kV/cm)</tspan></text>
</g>
<g fill="#fff">
<rect x="526.9" y="1275.0" width="14.0" height="8.8"/>
<rect x="547.2" y="1275.0" width="13.6" height="8.8"/>
<rect x="645.8" y="1218.8" width="14.0" height="8.8"/>
<rect x="666.1" y="1218.8" width="13.6" height="8.8"/>
<rect x="156.9" y="1099.6" width="16.7" height="10.0"/>
<rect x="181.2" y="1099.6" width="16.2" height="10.0"/>
<rect x="1982.2" y="1388.1" width="16.7" height="10.0"/>
<rect x="2006.5" y="1388.1" width="16.2" height="10.0"/>
</g>
</svg>
</body></html>
